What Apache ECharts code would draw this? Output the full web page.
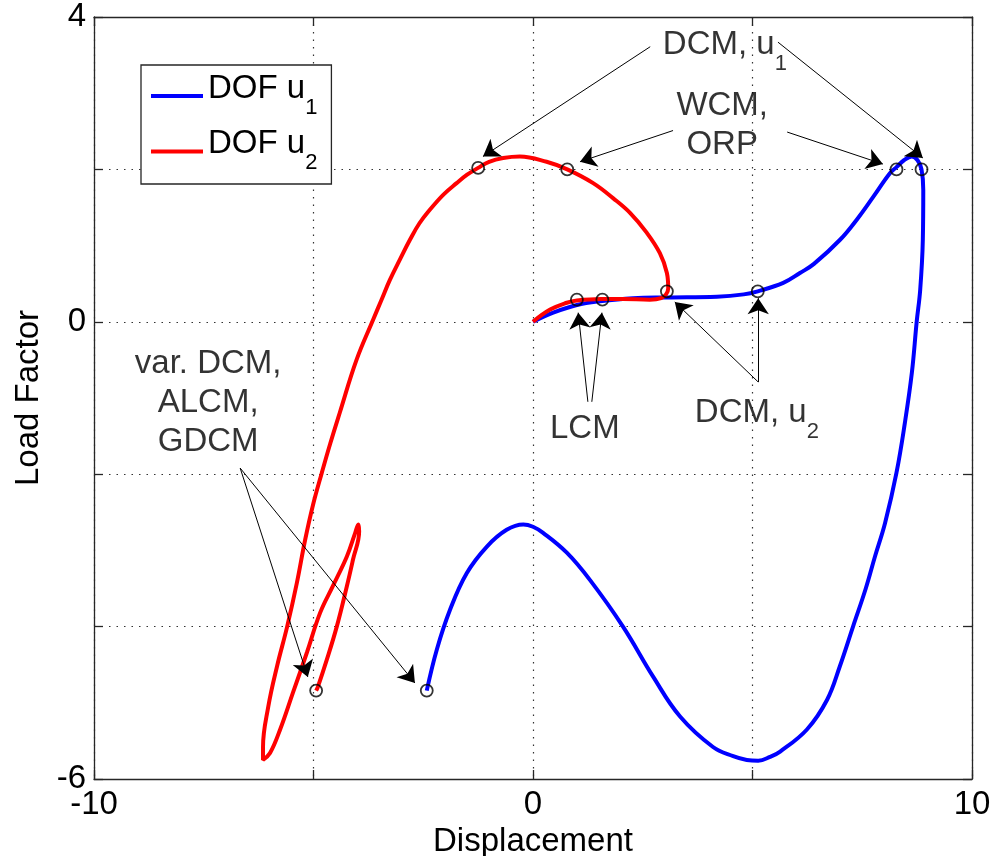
<!DOCTYPE html>
<html>
<head>
<meta charset="utf-8">
<script src="https://cdn.jsdelivr.net/npm/echarts@6/dist/echarts.min.js"></script>
<style>
  html, body { margin: 0; background: #fff; }
  #chart { width: 1000px; height: 856px; }
</style>
</head>
<body>
<div id="chart"></div>
<script>
// tick labels that are printed (the others only get a tick + grid line)
const xLabels = [-10, 0, 10];
const yLabels = [4, 0, -6];

// DOF u1 (blue) path, in drawing order
const dofU1 = [
  [0, 0], [0.46, 0.12], [1.0, 0.22], [1.53, 0.27], [2.28, 0.31], [3.05, 0.32],
  [4.19, 0.33], [4.8, 0.36], [5.12, 0.40], [5.7, 0.51], [6.08, 0.64], [6.4, 0.76],
  [7.0, 1.08], [7.4, 1.36], [7.75, 1.64], [8.13, 1.95], [8.28, 2.03], [8.45, 2.12],
  [8.63, 2.17], [8.76, 2.12], [8.85, 2.0], [8.89, 1.73], [8.88, 1.08], [8.82, 0.42],
  [8.74, 0], [8.63, -0.67], [8.47, -1.33], [8.28, -1.98], [8.02, -2.64], [7.79, -3.08],
  [7.58, -3.5], [7.29, -4.0], [6.99, -4.52], [6.7, -4.96], [6.24, -5.35], [5.63, -5.64],
  [5.4, -5.71], [5.13, -5.76], [4.87, -5.75], [4.56, -5.7], [4.1, -5.58], [3.35, -5.18],
  [2.74, -4.66], [2.05, -4.0], [1.3, -3.39], [0.77, -3.03], [0.23, -2.77], [0.0, -2.69],
  [-0.22, -2.66], [-0.6, -2.73], [-1.05, -2.95], [-1.51, -3.3], [-1.89, -3.78],
  [-2.19, -4.3], [-2.42, -4.84]
];

// DOF u2 (red) path, in drawing order
const dofU2 = [
  [0, 0], [0.39, 0.16], [0.77, 0.25], [1.0, 0.28], [1.55, 0.30], [2.05, 0.30],
  [2.66, 0.29], [2.92, 0.31], [3.03, 0.36], [3.08, 0.44], [3.05, 0.64], [2.89, 0.9],
  [2.59, 1.17], [2.21, 1.43], [1.83, 1.62], [1.37, 1.82], [0.78, 2.0], [0.31, 2.1],
  [-0.3, 2.17], [-0.68, 2.15], [-1.0, 2.1], [-1.25, 2.02], [-1.5, 1.93], [-1.74, 1.82],
  [-2.04, 1.67], [-2.35, 1.47], [-2.59, 1.29], [-2.8, 1.08], [-3.03, 0.82],
  [-3.26, 0.55], [-3.45, 0.29], [-3.64, 0.03], [-4.02, -0.5],
  [-4.4, -1.19], [-4.62, -1.6], [-4.81, -1.98], [-5.01, -2.4],
  [-5.19, -2.86], [-5.38, -3.43], [-5.6, -4.0], [-5.83, -4.52], [-6.03, -5.05],
  [-6.15, -5.58], [-6.15, -5.75], [-5.99, -5.66], [-5.76, -5.35], [-5.47, -4.87],
  [-5.15, -4.34], [-4.85, -3.82], [-4.56, -3.47], [-4.24, -3.08], [-4.05, -2.77],
  [-3.98, -2.66], [-3.96, -2.75], [-4.1, -3.12], [-4.24, -3.47], [-4.47, -4.0],
  [-4.7, -4.44], [-4.9, -4.79], [-4.94, -4.84]
];

// open circle markers
const markers = [
  [-1.25, 2.02], [0.78, 2.0], [8.28, 2.0], [8.85, 2.0],
  [1.0, 0.29], [1.58, 0.29], [3.05, 0.40], [5.12, 0.40],
  [-4.94, -4.84], [-2.42, -4.84]
];

// annotation texts: [x, y, text]
const notes = [
  [4.37, 3.53, '{m|DCM, u}{s|1}'],
  [4.31, 2.58, 'WCM,\nORP'],
  [1.18, -1.40, 'LCM'],
  [5.10, -1.30, '{m|DCM, u}{s|2}'],
  [-7.40, -1.07, 'var. DCM,\nALCM,\nGDCM']
];

// annotation arrows: [from, to]
const arrows = [
  [[2.67, 3.61], [-1.14, 2.17]],
  [[5.58, 3.67], [8.88, 2.15]],
  [[3.19, 2.51], [1.07, 2.10]],
  [[5.79, 2.49], [7.97, 2.07]],
  [[1.25, -1.05], [1.03, 0.12]],
  [[1.34, -1.05], [1.57, 0.12]],
  [[5.13, -0.79], [3.23, 0.26]],
  [[5.13, -0.79], [5.13, 0.31]],
  [[-6.67, -1.92], [-5.13, -4.66]],
  [[-6.67, -1.92], [-2.69, -4.74]]
];

const font = 'Liberation Sans, Arial, Helvetica, sans-serif';
const txt = { fontFamily: font, fontSize: 33, color: '#000' };
const rich = {
  m: { fontFamily: font, fontSize: 33, color: '#000', padding: [0, 0, 15, 0] },
  s: { fontFamily: font, fontSize: 22, color: '#000', padding: [23, 0, 0, 0] }
};
const frame = { color: '#262626', width: 1.3 };

function mainAxis(extra) {
  return Object.assign({
    type: 'value',
    axisLine: { onZero: false, lineStyle: frame },
    axisTick: { inside: true, length: 9, lineStyle: frame },
    splitLine: { show: true, lineStyle: { type: [1.5, 6], color: '#333', width: 1.2 } },
    nameTextStyle: txt
  }, extra);
}
function mirrorAxis(extra) {
  return Object.assign({
    type: 'value',
    axisLine: { onZero: false, lineStyle: frame },
    axisTick: { inside: true, length: 9, lineStyle: frame },
    axisLabel: { show: false },
    splitLine: { show: false }
  }, extra);
}

const chart = echarts.init(document.getElementById('chart'));
chart.setOption({
  animation: false,
  backgroundColor: '#fff',
  grid: { left: 94, right: 28, top: 17, bottom: 77, containLabel: false, outerBoundsMode: 'none' },
  legend: {
    data: ['DOF u1', 'DOF u2'],
    orient: 'vertical',
    left: 141,
    top: 65,
    padding: [7, 14, 10, 10],
    itemGap: 9,
    itemWidth: 52,
    itemHeight: 4,
    icon: 'rect',
    selectedMode: false,
    borderColor: '#262626',
    borderWidth: 1.3,
    backgroundColor: '#fff',
    formatter: name => '{m|DOF u}{s|' + name.slice(-1) + '}',
    textStyle: Object.assign({}, txt, { rich: rich })
  },
  xAxis: [
    mainAxis({
      min: -10, max: 10, interval: 5, position: 'bottom',
      name: 'Displacement', nameLocation: 'middle', nameGap: 42,
      axisLabel: Object.assign({}, txt, {
        margin: 9,
        formatter: v => xLabels.includes(v) ? String(v) : ''
      })
    }),
    mirrorAxis({ min: -10, max: 10, interval: 5, position: 'top' })
  ],
  yAxis: [
    mainAxis({
      min: -6, max: 4, interval: 2, position: 'left',
      name: 'Load Factor', nameLocation: 'middle', nameGap: 44,
      axisLabel: Object.assign({}, txt, {
        margin: 8,
        formatter: v => yLabels.includes(v) ? String(v) : ''
      })
    }),
    mirrorAxis({ min: -6, max: 4, interval: 2, position: 'right' })
  ],
  series: [
    {
      name: 'DOF u1', type: 'line', data: dofU1, showSymbol: false, smooth: 0.4,
      itemStyle: { color: '#0000ff' }, lineStyle: { color: '#0000ff', width: 4 }, z: 2
    },
    {
      name: 'DOF u2', type: 'line', data: dofU2, showSymbol: false, smooth: 0.4,
      itemStyle: { color: '#ff0000' }, lineStyle: { color: '#ff0000', width: 4 }, z: 3
    },
    {
      type: 'scatter', data: markers, symbol: 'circle', symbolSize: 12,
      itemStyle: { color: 'rgba(0,0,0,0)', borderColor: '#000', borderWidth: 1.8 },
      silent: true, z: 5
    },
    {
      type: 'lines', coordinateSystem: 'cartesian2d',
      data: arrows.map(a => ({ coords: a })),
      symbol: ['none', 'arrow'], symbolSize: 16,
      lineStyle: { color: '#000', width: 1, opacity: 1 },
      silent: true, z: 6
    },
    {
      type: 'scatter', symbolSize: 0, silent: true, z: 7,
      data: notes.map(n => ({
        value: [n[0], n[1]],
        label: n[2].includes('\n') ? { lineHeight: 39 } : {}
      })),
      label: Object.assign({}, txt, {
        show: true, position: 'inside', align: 'center', verticalAlign: 'middle',
        formatter: p => notes[p.dataIndex][2],
        rich: rich
      })
    }
  ]
});
</script>
</body>
</html>
